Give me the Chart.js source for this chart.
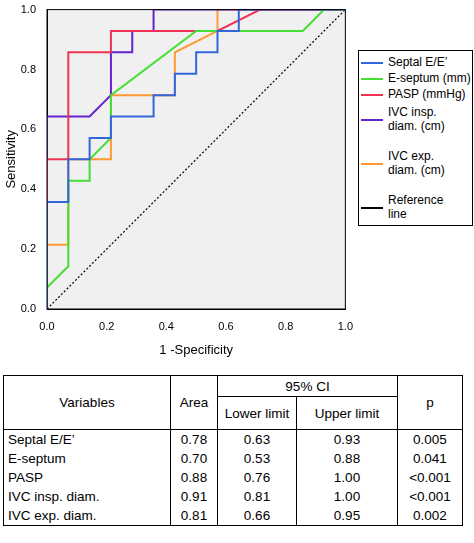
<!DOCTYPE html>
<html><head><meta charset="utf-8">
<script src="https://cdn.jsdelivr.net/npm/chart.js@4"></script>
<style>
body{margin:0;background:#fff;font-family:"Liberation Sans",Arial,sans-serif;width:474px;height:543px;overflow:hidden;position:relative}
#wrap{position:absolute;left:0;top:0;width:356px;height:362px}
#legend{position:absolute;left:358px;top:50px;width:115px;height:176px;border:1px solid #000;box-sizing:border-box;font-size:12px;line-height:13.5px;background:#fff}
.it{position:absolute;left:0;display:flex;align-items:center}
.sw{width:22px;height:2px;margin:0 5px 0 2px}
table{position:absolute;left:3px;top:375px;width:460px;border-collapse:collapse;font-size:13.5px}
td{padding:0 4px;text-align:center;height:19px}
.hd td{border:1px solid #000}
td.l{text-align:left}
tbody.b td{border-left:1px solid #000;border-right:1px solid #000}
</style></head><body>
<div id="wrap"><canvas id="c" width="356" height="362"></canvas></div>
<div id="legend"></div>
<table>
<tr class="hd"><td rowspan="2" style="width:158px">Variables</td><td rowspan="2" style="width:38px">Area</td><td colspan="2" style="height:20px">95% CI</td><td rowspan="2">p</td></tr>
<tr class="hd"><td style="width:70px;height:32px">Lower limit</td><td style="width:92px">Upper limit</td></tr>
<tbody class="b" id="tb"></tbody>
</table>
<script>
var k = 1 / 14;
var names = ['Septal E/E\u2019', 'E-septum (mm)', 'PASP (mmHg)', 'IVC insp. diam. (cm)', 'IVC exp. diam. (cm)'];
var colors = ['#3366dd', '#44dd33', '#ee3355', '#6622cc', '#ff9933'];
var septal = [[0,0],[0,5],[1,5],[1,7],[2,7],[2,8],[3,8],[3,9],[5,9],[5,10],[6,10],[6,11],[7,11],[7,12],[8,12],[8,13],[9,13],[9,14],[14,14]];
var eseptum = [[0,1],[1,2],[1,6],[2,6],[2,7],[3,8],[3,10],[7,13],[12,13],[13,14],[14,14]];
var pasp = [[0,0],[0,7],[1,7],[1,12],[3,12],[3,13],[8,13],[10,14],[14,14]];
var ivcInsp = [[0,0],[0,9],[2,9],[3,10],[3,12],[4,12],[4,13],[5,13],[5,14],[14,14]];
var ivcExp = [[0,0],[0,3],[1,3],[1,7],[3,7],[3,10],[6,10],[6,12],[8,13],[8,14],[14,14]];
var curves = [septal, eseptum, pasp, ivcInsp, ivcExp];

var tableNames = ['Septal E/E\u2019', 'E-septum', 'PASP', 'IVC insp. diam.', 'IVC exp. diam.'];
var area = ['0.78', '0.70', '0.88', '0.91', '0.81'];
var lower = ['0.63', '0.53', '0.76', '0.81', '0.66'];
var upper = ['0.93', '0.88', '1.00', '1.00', '0.95'];
var pval = ['0.005', '0.041', '<0.001', '<0.001', '0.002'];

var tb = document.getElementById('tb');
for (var i = 0; i < tableNames.length; i++) {
    var tr = document.createElement('tr');
    if (i == tableNames.length - 1) tr.style.borderBottom = '1px solid #000';
    [tableNames[i], area[i], lower[i], upper[i], pval[i]].forEach(function (v, j) {
        var td = document.createElement('td');
        td.textContent = v;
        if (j == 0) td.className = 'l';
        tr.appendChild(td);
    });
    tb.appendChild(tr);
}

var datasets = curves.map(function (c, i) {
    return {
        label: names[i], borderColor: colors[i], borderWidth: 2, pointRadius: 0, fill: false,
        data: c.map(function (p) { return {x: p[0] * k, y: p[1] * k}; })
    };
});
datasets.push({label: 'Reference line', borderColor: '#000', borderWidth: 1.2, borderDash: [2, 2], pointRadius: 0,
    data: [{x: 0, y: 0}, {x: 1, y: 1}]});

var lg = document.getElementById('legend');
var tops = [5, 21, 37, 55, 99, 143];
var labels = ['Septal E/E\u2019', 'E-septum (mm)', 'PASP (mmHg)', 'IVC insp.<br>diam. (cm)', 'IVC exp.<br>diam. (cm)', 'Reference<br>line'];
labels.forEach(function (t, i) {
    var d = document.createElement('div');
    d.className = 'it';
    d.style.top = tops[i] + 'px';
    d.innerHTML = '<span class="sw" style="background:' + (colors[i] || '#000') + '"></span><span>' + t + '</span>';
    lg.appendChild(d);
});

var bg = {
    id: 'bg',
    beforeDraw: function (ch) {
        var a = ch.chartArea, x = ch.ctx;
        x.fillStyle = '#f0f0f0';
        x.fillRect(a.left, a.top, a.right - a.left, a.bottom - a.top);
    },
    afterDraw: function (ch) {
        var a = ch.chartArea, x = ch.ctx;
        x.strokeStyle = '#000'; x.lineWidth = 1;
        x.strokeRect(a.left, a.top, a.right - a.left, a.bottom - a.top);
    }
};

new Chart(document.getElementById('c'), {
    type: 'line',
    data: {datasets: datasets},
    plugins: [bg],
    options: {
        responsive: false, animation: false,
        layout: {padding: {top: 7, right: 4}},
        plugins: {legend: {display: false}, tooltip: {enabled: false}},
        scales: {
            x: {
                type: 'linear', min: 0, max: 1,
                ticks: {stepSize: 0.2, color: '#000', font: {size: 11}, callback: function (v) { return v.toFixed(1); }},
                grid: {display: false, drawTicks: true}, border: {color: '#000'},
                title: {display: true, text: '1 -Specificity', color: '#000', font: {size: 13}},
                afterFit: function (s) { s.height = 53; }
            },
            y: {
                type: 'linear', min: 0, max: 1,
                ticks: {stepSize: 0.2, color: '#000', font: {size: 11}, callback: function (v) { return v.toFixed(1); }},
                grid: {display: false}, border: {color: '#000'},
                title: {display: true, text: 'Sensitivity', color: '#000', font: {size: 13}},
                afterFit: function (s) { s.width = 47; }
            }
        }
    }
});
</script>
</body></html>
